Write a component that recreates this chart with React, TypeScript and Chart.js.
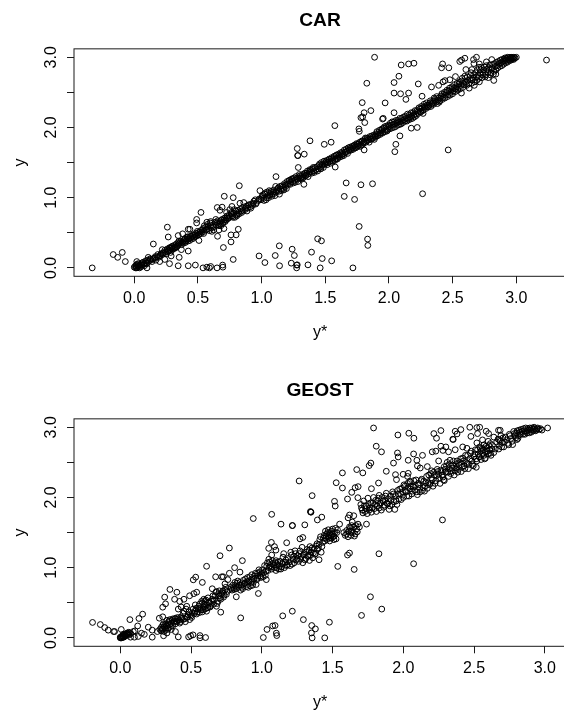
import React, { useEffect, useRef } from "react";
import { Chart, registerables } from "chart.js";

Chart.register(...registerables);

type P = [number, number];

const xTickValues = { step: 0.5 };
const carTitle = "CAR";
const geostTitle = "GEOST";

const carOutliers: P[] = [
[-0.33,0],[-0.165,0.19],[-0.13,0.15],[-0.094,0.22],[-0.07,0.09],[0.15,0.34],[0.26,0.58],[0.267,0.44],[0.345,0.46],[0.277,0.06],[0.345,0.03],[0.353,0.15],[0.424,0.03],[0.424,0.24],[0.37,0.26],[0.48,0.04],[0.54,0],[0.57,0.01],[0.59,0],[0.6,0.02],[0.65,0],[0.694,0.04],[0.696,0.01],[0.7,0.29],[0.777,0.12],[0.654,0.45],[0.76,0.47],[0.76,0.37],[0.8,0.47],[0.817,0.55],[0.665,0.54],[0.704,0.56],[0.49,0.64],[0.49,0.69],[0.524,0.79],[0.652,0.86],[0.69,0.865],[0.673,0.82],[0.707,1.02],[0.777,1.0],[0.825,1.17],[0.767,0.875],[0.725,0.79],[0.38,0.485],[0.424,0.55],[0.437,0.55],[0.508,0.39],[0.98,0.17],[1.026,0.076],[1.107,0.176],[1.139,0.314],[1.141,0.03],[1.24,0.266],[1.257,0.176],[1.233,0.067],[1.275,0.04],[1.275,0],[1.113,1.3],[1.28,1.7],[1.283,1.6],[1.288,1.43],[0.987,1.1],
[3.237,2.96],[1.887,3.0],[2.096,2.89],[2.154,2.905],[2.196,2.915],[1.826,2.63],[2.04,2.64],[2.078,2.73],[2.23,2.62],[2.04,2.49],[2.091,2.48],[2.154,2.49],[2.133,2.4],[1.97,2.35],[1.79,2.354],[1.805,2.21],[1.858,2.24],[1.78,2.14],[1.793,2.15],[1.81,2.07],[2.04,2.21],[1.955,2.13],[1.95,2.12],[1.575,2.026],[1.764,1.98],[1.767,1.945],[2.175,1.99],[2.222,2.0],[2.086,1.88],[2.054,1.76],[2.046,1.655],[1.805,1.68],[2.465,1.68],[1.38,1.81],[1.492,1.76],[1.546,1.79],[1.335,1.62],[1.285,1.6],[1.578,1.436],[2.264,1.056],[1.664,1.21],[1.78,1.184],[1.871,1.198],[1.649,1.018],[1.73,0.975],[1.332,1.19],[1.766,0.59],[1.832,0.41],[1.834,0.32],[1.44,0.414],[1.47,0.385],[1.392,0.224],[1.476,0.133],[1.55,0.1],[1.364,0.043],[1.46,0],[1.717,0],[1.28,0.043],
[2.421,2.905],[2.413,2.85],[2.47,2.85],[2.556,2.94],[2.57,2.96],[2.596,2.986],[2.687,3.0],[2.664,2.967],[2.667,2.91],[2.71,2.905],[2.604,2.825],[2.651,2.825],[2.706,2.858],[2.765,2.934],[2.807,2.967],[2.334,2.577],[2.39,2.6],[2.425,2.65],[2.44,2.667],[2.478,2.68],[2.522,2.725],[2.569,2.49],[2.823,2.67],[2.839,2.76],[2.26,2.445],[2.268,2.2],
];

const carBand: P[] = [
[0.0,0.01],[0.01,0.0],[0.01,0.03],[0.015,0.01],[0.02,0.0],[0.02,0.05],[0.02,0.09],[0.03,0.02],[0.03,0.06],[0.04,0.0],[0.04,0.03],[0.05,0.05],[0.05,0.01],[0.06,0.04],[0.07,0.08],[0.08,0.03],[0.08,0.06],[0.09,0.1],[0.1,0.0],[0.1,0.06],[0.11,0.09],[0.11,0.15],[0.12,0.1],[0.13,0.12],[0.14,0.09],[0.15,0.13],[0.16,0.14],[0.17,0.11],[0.18,0.16],[0.19,0.15],[0.2,0.17],[0.2,0.09],[0.21,0.2],[0.22,0.19],[0.22,0.26],[0.23,0.22],[0.24,0.12],[0.24,0.25],[0.25,0.2],[0.26,0.27],[0.26,0.23],[0.27,0.24],[0.28,0.29],[0.28,0.25],[0.29,0.28],[0.29,0.17],[0.3,0.26],[0.3,0.31],[0.31,0.29],[0.32,0.3],[0.32,0.28],[0.33,0.34],[0.34,0.32],[0.35,0.34],[0.35,0.38],[0.36,0.36],[0.37,0.33],[0.38,0.37],[0.39,0.39],[0.4,0.36],[0.4,0.42],[0.41,0.4],[0.42,0.38],[0.42,0.44],[0.43,0.42],[0.44,0.45],[0.45,0.41],[0.46,0.47],[0.47,0.44],[0.48,0.49],[0.49,0.46],[0.5,0.5],[0.51,0.48],[0.52,0.53],[0.53,0.51],[0.54,0.56],[0.55,0.52],[0.55,0.6],[0.56,0.58],[0.57,0.55],[0.57,0.65],[0.58,0.59],[0.59,0.53],[0.6,0.61],[0.6,0.66],[0.61,0.52],[0.62,0.58],
[0.64,0.69],[0.65,0.64],[0.66,0.62],[0.67,0.66],[0.68,0.6],[0.69,0.69],[0.7,0.65],[0.71,0.71],[0.72,0.68],[0.73,0.74],[0.74,0.71],[0.75,0.83],[0.76,0.77],[0.77,0.74],[0.78,0.78],[0.79,0.72],[0.8,0.81],[0.81,0.76],[0.82,0.79],[0.83,0.92],[0.84,0.81],[0.85,0.86],[0.86,0.93],[0.87,0.83],[0.88,0.88],[0.89,0.85],[0.9,0.9],[0.91,0.87],[0.92,0.91],[0.93,0.89],[0.94,0.95],[0.95,0.97],[0.96,0.93],[0.98,0.98],[1.0,1.0],[1.01,1.04],[1.02,0.96],[1.03,1.07],[1.04,1.0],[1.05,1.03],[1.06,1.1],[1.07,1.06],[1.08,1.02],[1.09,1.08],[1.1,1.06],[1.11,1.16],[1.12,1.1],[1.13,1.14],[1.14,1.05],[1.15,1.12],[1.16,1.17],[1.17,1.13],[1.18,1.2],[1.19,1.16],[1.2,1.23],[1.21,1.19],[1.22,1.25],[1.23,1.22],[1.24,1.27],[1.25,1.21],[1.26,1.25],[1.27,1.3],[1.28,1.26],[1.29,1.28],[1.3,1.31],[1.31,1.27],[1.32,1.33],[1.33,1.3],[1.34,1.35],[1.35,1.32],[1.36,1.38],[1.37,1.34],[1.38,1.4],[1.39,1.37],[1.4,1.41],[1.41,1.38],[1.42,1.43],[1.43,1.4],[1.44,1.38],[1.45,1.46],[1.46,1.43],[1.47,1.5],[1.48,1.46],[1.49,1.52],[1.5,1.48],[1.51,1.53],[1.52,1.5],[1.53,1.55],[1.54,1.49],[1.55,1.57],[1.56,1.52],[1.57,1.59],[1.58,1.55],[1.59,1.61],[1.6,1.57],[1.61,1.6],[1.62,1.64],[1.63,1.59],[1.64,1.62],[1.65,1.68],[1.66,1.64],[1.67,1.66],[1.68,1.71],[1.69,1.67],[1.7,1.7],[1.71,1.73],[1.72,1.69],[1.73,1.75],[1.74,1.71],[1.75,1.76],[1.76,1.74],[1.77,1.79],[1.78,1.75],[1.79,1.81],[1.8,1.78],[1.81,1.83],[1.82,1.79],[1.83,1.85],[1.84,1.82],[1.85,1.87],[1.86,1.83],[1.87,1.84],[1.88,1.89],[1.89,1.86],[1.9,1.91],[1.91,1.88],[1.92,1.93],[1.93,1.9],[1.94,1.96],[1.95,1.92],[1.96,1.99],[1.97,1.94],[1.98,2.02],[1.99,1.97],[2.0,2.01],[2.01,2.06],[2.02,1.99],[2.03,2.04],[2.04,2.08],[2.05,2.01],[2.06,2.06],[2.07,2.1],[2.08,2.04],[2.09,2.08],[2.1,2.13],[2.11,2.07],[2.12,2.11],[2.13,2.16],[2.14,2.09],[2.15,2.13],[2.16,2.18],[2.17,2.12],[2.18,2.16],[2.19,2.21],[2.2,2.15],[2.21,2.19],[2.22,2.24],[2.23,2.2],[2.24,2.26],[2.25,2.22],[2.26,2.28],[2.27,2.25],[2.28,2.3],[2.29,2.27],[2.3,2.32],[2.31,2.29],[2.32,2.35],[2.33,2.3],[2.34,2.37],[2.35,2.33],[2.36,2.4],[2.37,2.36],[2.38,2.34],[2.39,2.42],[2.4,2.38],[2.41,2.45],[2.42,2.4],[2.43,2.47],[2.44,2.42],[2.45,2.5],[2.46,2.44],[2.47,2.52],[2.48,2.46],[2.49,2.54],[2.5,2.48],[2.51,2.56],[2.52,2.51],[2.53,2.58],[2.54,2.53],[2.55,2.62],[2.56,2.55],[2.57,2.66],[2.58,2.57],[2.59,2.61],[2.6,2.7],[2.61,2.6],[2.62,2.67],[2.63,2.56],[2.64,2.74],[2.65,2.63],[2.66,2.7],[2.67,2.6],[2.68,2.78],[2.69,2.67],[2.7,2.74],[2.71,2.65],[2.72,2.82],[2.73,2.71],[2.74,2.78],[2.75,2.86],[2.76,2.75],[2.77,2.83],[2.78,2.71],[2.79,2.89],[2.8,2.78],[2.81,2.85],[2.82,2.76],[2.83,2.91],[2.84,2.82],[2.85,2.88],[2.86,2.94],[2.87,2.87],[2.88,2.92],[2.89,2.97],[2.9,2.9],[2.91,2.95],[2.92,2.98],[2.93,2.93],[2.94,2.97],[2.95,3.0],[2.96,2.96],[2.97,2.99],[2.98,3.0],[2.98,2.97],[2.99,2.99],[3.0,3.0],[2.93,3.0],[2.91,2.99],[2.96,2.99],
];

const carBandExtra: P[] = [
[0.015,0.03],[0.03,0.04],[0.045,0.02],[0.06,0.07],[0.075,0.05],[0.09,0.07],[0.105,0.11],[0.125,0.13],[0.145,0.12],[0.165,0.16],[0.185,0.19],[0.205,0.18],[0.225,0.21],[0.245,0.22],[0.265,0.25],[0.275,0.28],[0.285,0.22],[0.295,0.3],[0.305,0.27],[0.315,0.32],[0.325,0.29],[0.335,0.3],[0.345,0.36],[0.365,0.38],[0.375,0.36],[0.385,0.35],[0.395,0.41],[0.405,0.38],[0.415,0.44],[0.425,0.41],[0.435,0.39],[0.445,0.43],[0.455,0.45],[0.465,0.42],[0.475,0.47],[0.485,0.45],[0.495,0.52],[0.505,0.47],[0.515,0.51],[0.525,0.49],[0.535,0.54],[0.545,0.49],[0.565,0.54],[0.575,0.62],[0.585,0.56],[0.595,0.64],[0.605,0.57],[0.615,0.6],[0.625,0.54],[0.635,0.65],[0.645,0.61],[0.655,0.67],[0.665,0.6],[0.675,0.63],[0.685,0.68],[0.695,0.63],[0.705,0.68],[0.715,0.66],[0.725,0.71],[0.735,0.7],[0.745,0.75],[0.755,0.73],[0.765,0.79],[0.775,0.72],[0.785,0.83],[0.795,0.76],[0.805,0.74],[0.815,0.82],[0.825,0.77],[0.835,0.84],[0.845,0.79],[0.855,0.82],[0.875,0.86],[0.885,0.81],[0.895,0.89],[0.915,0.85],[0.935,0.92],[0.955,0.91],[0.975,0.96],[0.995,0.97],[1.005,1.02],[1.015,0.99],[1.025,1.05],[1.035,0.97],[1.045,1.08],[1.055,1.0],[1.065,1.04],[1.075,1.09],[1.085,1.05],[1.095,1.11],[1.105,1.03],[1.115,1.08],[1.125,1.12],[1.135,1.09],[1.145,1.16],[1.155,1.1],[1.165,1.15],[1.175,1.11],[1.185,1.18],[1.195,1.13],[1.205,1.2],[1.215,1.24],[1.225,1.19],[1.235,1.26],[1.245,1.23],[1.255,1.28],[1.265,1.22],[1.275,1.27],[1.285,1.23],[1.295,1.33],[1.305,1.28],[1.315,1.3],[1.325,1.28],[1.335,1.33],[1.345,1.31],[1.355,1.35],[1.365,1.3],[1.375,1.37],[1.385,1.39],[1.395,1.35],[1.405,1.43],[1.415,1.36],[1.435,1.44],[1.445,1.41],[1.455,1.48],[1.465,1.41],[1.475,1.47],[1.485,1.43],[1.495,1.49],[1.505,1.51],[1.515,1.47],[1.525,1.53],[1.535,1.51],[1.545,1.55],[1.555,1.53],[1.565,1.57],[1.575,1.53],[1.585,1.6],[1.595,1.55],[1.605,1.62],[1.615,1.58],[1.625,1.61],[1.635,1.65],[1.645,1.6],[1.655,1.65],[1.665,1.69],[1.675,1.63],[1.685,1.68],[1.695,1.72],[1.705,1.68],[1.715,1.71],[1.725,1.74],[1.735,1.72],[1.745,1.77],[1.755,1.73],[1.765,1.77],[1.775,1.73],[1.785,1.8],[1.795,1.76],[1.805,1.8],[1.815,1.85],[1.825,1.81],[1.835,1.83],[1.845,1.79],[1.855,1.84],[1.865,1.88],[1.875,1.86],[1.885,1.83],[1.895,1.88],[1.905,1.94],[1.915,1.9],[1.925,1.96],[1.935,1.92],[1.945,1.98],[1.955,1.94],[1.965,2.01],[1.975,1.97],[1.985,1.95],[1.995,2.03],[2.005,1.98],[2.015,2.03],[2.025,2.08],[2.035,2.0],[2.045,2.05],[2.055,2.1],[2.065,2.03],[2.075,2.08],[2.085,2.13],[2.095,2.05],[2.105,2.1],[2.115,2.15],[2.125,2.09],[2.135,2.13],[2.145,2.19],[2.155,2.11],[2.165,2.15],[2.175,2.21],[2.185,2.13],[2.195,2.18],[2.205,2.24],[2.215,2.17],[2.225,2.22],[2.235,2.28],[2.245,2.23],[2.255,2.3],[2.265,2.24],[2.275,2.33],[2.285,2.29],[2.295,2.35],[2.305,2.3],[2.315,2.32],[2.325,2.38],[2.335,2.33],[2.345,2.35],[2.355,2.42],[2.365,2.38],[2.375,2.44],[2.385,2.39],[2.395,2.36],[2.405,2.42],[2.415,2.48],[2.425,2.43],[2.435,2.5],[2.445,2.46],[2.455,2.53],[2.465,2.47],[2.475,2.56],[2.485,2.5],[2.495,2.58],[2.505,2.52],[2.515,2.61],[2.525,2.55],[2.535,2.63],[2.545,2.57],[2.555,2.65],[2.565,2.6],[2.575,2.7],[2.585,2.63],[2.595,2.73],[2.605,2.65],[2.615,2.72],[2.625,2.62],[2.635,2.68],[2.645,2.78],[2.655,2.68],[2.665,2.75],[2.675,2.65],[2.685,2.72],[2.695,2.82],[2.705,2.7],[2.715,2.78],[2.725,2.86],[2.735,2.75],[2.745,2.82],[2.755,2.72],[2.765,2.88],[2.775,2.79],[2.785,2.85],[2.795,2.75],[2.805,2.83],[2.815,2.9],[2.825,2.8],[2.835,2.87],[2.845,2.93],[2.855,2.85],[2.865,2.91],[2.875,2.96],[2.885,2.88],[2.895,2.94],[2.905,2.97],[2.915,2.92],[2.925,2.96],[2.935,2.99],[2.945,2.95],[2.955,2.98],[2.965,3.0],[2.975,2.98],
];

const geostOutliers: P[] = [
[-0.196,0.22],[-0.141,0.19],[-0.11,0.147],[-0.085,0.11],[-0.047,0.09],[-0.04,0.09],[0.007,0.12],[0.068,0.26],[0.132,0.276],[0.158,0.338],[0.123,0.17],[0.104,0.1],[0.092,0.09],[0.073,0.01],[0.1,0.01],[0.127,0.02],[0.15,0.067],[0.17,0.05],[0.198,0.152],[0.226,0.11],[0.226,0.01],[0.262,0.09],[0.276,0.28],[0.306,0.03],[0.3,0.3],[0.3,0.437],[0.314,0.58],[0.32,0.485],[0.351,0.69],[0.384,0.55],[0.4,0.65],[0.39,0.09],[0.41,0.014],[0.483,0.014],[0.497,0.03],[0.514,0.043],[0.563,0.033],[0.563,0],[0.603,0.005],[0.516,0.827],[0.533,0.865],[0.58,0.79],[0.61,1.02],[0.674,0.87],[0.705,1.17],[0.771,1.28],[0.717,0.87],[0.728,0.87],[0.771,0.92],[0.808,1.0],[0.863,1.1],[0.846,0.937],[0.71,0.366],[0.82,0.585],[0.851,0.285],[0.976,0.632],[0.94,1.7],[1.07,1.76],[1.136,1.62],[1.216,1.6],[1.264,2.235],[1.176,1.355],[1.068,1.36],[1.049,1.275],[1.09,1.3],[1.1,1.25],[1.148,0.314],[1.216,0.38],[1.011,0.005],[1.037,0.12],[1.077,0.17],[1.094,0.176],[1.103,0.067],[1.106,0.033],[1.032,0.83],
[1.79,2.99],[1.962,2.89],[2.039,2.915],[2.075,2.844],[2.216,2.91],[2.235,2.844],[2.266,2.953],[1.809,2.73],[1.846,2.65],[1.959,2.634],[1.964,2.577],[2.073,2.62],[2.136,2.6],[2.035,2.53],[1.931,2.49],[1.771,2.49],[1.759,2.454],[2.096,2.53],[2.205,2.65],[1.671,2.397],[1.57,2.35],[1.714,2.35],[1.88,2.373],[1.526,2.21],[1.57,2.135],[1.825,2.206],[1.66,2.14],[1.681,2.154],[1.775,2.125],[1.945,2.325],[1.952,2.254],[1.999,2.33],[2.035,2.344],[1.636,2.073],[1.606,1.978],[1.679,1.997],[1.356,2.026],[1.514,1.945],[1.519,1.878],[1.346,1.793],[1.348,1.79],[1.344,1.8],[1.217,1.6],[1.304,1.61],[1.393,1.68],[1.424,1.72],[2.277,1.68],[2.073,1.056],[1.828,1.198],[1.606,1.18],[1.62,1.208],[1.537,1.018],[1.653,0.975],[1.337,1.103],[1.405,1.113],[1.768,0.585],[1.848,0.41],[1.705,0.32],[1.294,0.26],[1.353,0.176],[1.379,0.128],[1.351,0.07],[1.356,0],[1.445,0],[1.478,0.223],
[2.367,2.943],[2.38,2.905],[2.407,2.967],[2.353,2.825],[2.47,3.0],[2.478,2.87],[2.52,2.995],[2.54,3.0],[2.525,2.91],[2.586,2.943],[2.603,2.91],[2.673,2.957],[2.685,2.957],[2.301,2.72],[2.266,2.73],[2.367,2.68],[2.52,2.777],[2.615,2.767],[2.516,2.43],[2.773,2.753],[2.803,2.825],[2.35,2.83],[2.23,2.66],[2.28,2.67],[2.32,2.65],[2.42,2.72],[2.45,2.7],[2.56,2.82],[2.64,2.86],[2.68,2.82],[2.1,2.45],[2.12,2.42],[2.17,2.44],[2.25,2.52],[2.03,2.3],
];

const geostBand: P[] = [
[0,0],[0.0,0.01],[0.005,0.0],[0.01,0.02],[0.01,0.0],[0.02,0.03],[0.02,0.01],[0.02,0.05],[0.03,0.02],[0.03,0.04],[0.04,0.06],[0.04,0.03],[0.05,0.05],[0.05,0.07],[0.06,0.08],[0.06,0.04],
[0.28,0.12],[0.29,0.15],[0.29,0.1],[0.3,0.18],[0.3,0.13],[0.31,0.09],[0.31,0.16],[0.32,0.2],[0.32,0.12],[0.33,0.25],[0.33,0.17],[0.33,0.07],[0.34,0.14],[0.34,0.22],[0.35,0.19],[0.35,0.26],[0.36,0.12],[0.36,0.21],[0.37,0.27],[0.37,0.17],[0.38,0.24],[0.39,0.2],[0.39,0.28],[0.4,0.23],[0.41,0.41],[0.41,0.27],[0.42,0.21],[0.42,0.52],[0.43,0.3],[0.43,0.44],[0.44,0.26],[0.45,0.38],[0.45,0.55],[0.46,0.23],[0.47,0.29],[0.47,0.45],[0.48,0.33],[0.49,0.26],[0.49,0.6],[0.5,0.31],[0.51,0.36],[0.52,0.63],[0.53,0.38],[0.53,0.47],[0.54,0.65],[0.54,0.34],[0.55,0.42],[0.56,0.36],[0.56,0.48],[0.57,0.4],[0.58,0.5],[0.58,0.37],[0.59,0.44],[0.59,0.55],[0.6,0.41],[0.6,0.52],[0.61,0.47],[0.61,0.38],[0.62,0.57],[0.62,0.43],[0.63,0.5],[0.64,0.46],[0.65,0.55],[0.65,0.7],[0.66,0.48],[0.67,0.6],[0.68,0.45],[0.68,0.66],[0.69,0.52],[0.7,0.6],[0.7,0.67],[0.71,0.55],[0.72,0.64],[0.73,0.58],[0.74,0.68],[0.74,0.77],[0.75,0.62],[0.76,0.83],[0.78,0.72],[0.79,0.68],[0.8,0.71],[0.81,0.79],[0.82,0.7],[0.83,0.81],[0.84,0.75],[0.85,0.68],[0.86,0.72],[0.87,0.82],[0.88,0.78],[0.89,0.73],[0.9,0.86],[0.9,0.76],[0.91,0.81],[0.92,0.74],[0.93,0.9],[0.93,0.84],[0.94,0.79],[0.95,0.88],[0.96,0.76],[0.97,0.92],[0.97,0.85],[0.98,0.97],[0.99,0.88],[1.0,0.92],[1.01,0.87],[1.02,1.03],[1.03,0.95],[1.04,1.07],[1.05,1.0],[1.05,1.12],[1.06,1.03],[1.07,0.98],[1.07,1.18],[1.08,1.06],[1.09,1.0],[1.1,1.1],[1.1,0.96],[1.11,1.04],[1.12,0.98],[1.13,1.09],[1.14,1.01],[1.15,1.15],[1.15,1.06],[1.16,1.0],[1.17,1.11],[1.18,1.04],[1.2,1.03],[1.21,1.18],[1.22,1.12],[1.23,1.07],[1.24,1.2],[1.25,1.13],[1.26,1.09],[1.27,1.24],[1.27,1.41],[1.28,1.16],[1.29,1.07],[1.29,1.43],[1.3,1.2],[1.31,1.13],[1.32,1.26],[1.33,1.17],[1.34,1.3],[1.35,1.22],[1.36,1.14],[1.37,1.27],[1.38,1.2],[1.39,1.34],[1.4,1.28],[1.41,1.4],[1.42,1.22],[1.43,1.36],[1.44,1.46],[1.45,1.42],[1.45,1.52],[1.46,1.48],[1.46,1.4],[1.47,1.44],[1.47,1.54],[1.48,1.5],[1.48,1.38],[1.49,1.46],[1.49,1.42],[1.5,1.55],[1.5,1.48],[1.51,1.4],[1.51,1.45],[1.52,1.56],[1.53,1.5],[1.55,1.62],[1.58,1.5],[1.59,1.46],[1.6,1.53],[1.61,1.71],[1.61,1.44],[1.62,1.58],[1.62,1.75],[1.63,1.52],[1.63,1.46],[1.64,1.65],[1.65,1.58],[1.65,1.74],[1.66,1.48],[1.67,1.55],[1.68,1.62],[1.7,1.9],[1.71,1.82],[1.72,1.95],[1.73,1.8],[1.74,1.88],[1.74,1.62],[1.75,1.99],[1.76,1.82],[1.77,1.92],[1.78,1.85],[1.79,2.0],[1.8,1.9],[1.81,1.8],[1.82,1.95],[1.83,2.03],[1.83,1.85],[1.84,1.92],[1.85,2.0],[1.86,1.86],[1.87,1.96],[1.88,2.06],[1.89,1.91],[1.9,1.83],[1.91,2.02],[1.92,1.9],[1.93,2.05],[1.94,1.83],[1.95,1.95],[1.96,2.1],[1.97,1.98],[1.98,2.05],[1.99,2.13],[2.0,2.0],[2.01,2.16],[2.02,2.08],[2.03,2.2],[2.04,2.02],[2.05,2.12],[2.05,2.22],[2.06,2.05],[2.07,2.15],[2.08,2.1],[2.09,2.25],[2.1,2.04],[2.11,2.18],[2.12,2.08],[2.13,2.26],[2.14,2.14],[2.15,2.09],[2.16,2.21],[2.17,2.13],[2.18,2.32],[2.19,2.2],[2.2,2.38],[2.2,2.28],[2.21,2.16],[2.22,2.32],[2.23,2.24],[2.24,2.4],[2.25,2.33],[2.26,2.2],[2.27,2.37],[2.28,2.29],[2.29,2.44],[2.29,2.24],[2.3,2.36],[2.31,2.5],[2.32,2.41],[2.32,2.3],[2.33,2.53],[2.34,2.38],[2.35,2.46],[2.36,2.32],[2.37,2.42],[2.38,2.52],[2.39,2.4],[2.4,2.5],[2.41,2.37],[2.42,2.56],[2.43,2.45],[2.44,2.6],[2.45,2.48],[2.46,2.41],[2.47,2.55],[2.48,2.66],[2.49,2.47],[2.5,2.58],[2.51,2.68],[2.52,2.52],[2.53,2.62],[2.54,2.72],[2.54,2.58],[2.55,2.66],[2.55,2.54],[2.56,2.7],[2.57,2.6],[2.57,2.75],[2.58,2.65],[2.58,2.56],[2.59,2.7],[2.6,2.62],[2.6,2.8],[2.61,2.68],[2.62,2.6],[2.63,2.74],[2.65,2.69],[2.67,2.83],[2.68,2.74],[2.69,2.88],[2.7,2.78],[2.71,2.72],[2.72,2.86],[2.74,2.77],[2.75,2.9],[2.76,2.84],[2.78,2.94],[2.79,2.88],[2.8,2.92],[2.81,2.84],[2.82,2.96],[2.83,2.9],[2.84,2.94],[2.85,2.98],[2.86,2.9],[2.87,2.94],[2.88,2.98],[2.89,2.92],[2.9,2.96],[2.91,2.99],[2.92,2.95],[2.93,2.98],[2.94,2.96],[2.95,2.99],[2.96,2.97],[2.97,2.98],[2.98,2.96],[3.02,2.99],
];

const geostBandExtra: P[] = [
[0.01,0.01],[0.015,0.03],[0.025,0.01],[0.03,0.05],[0.035,0.03],[0.045,0.05],[0.055,0.06],[0.065,0.07],[0.075,0.06],
[0.295,0.12],[0.305,0.2],[0.315,0.14],[0.325,0.18],[0.335,0.12],[0.345,0.24],[0.355,0.16],[0.365,0.25],[0.375,0.22],[0.385,0.27],[0.395,0.24],[0.405,0.29],[0.415,0.25],[0.425,0.23],[0.435,0.28],[0.445,0.35],[0.455,0.27],[0.465,0.41],[0.475,0.3],[0.485,0.37],[0.495,0.33],[0.505,0.29],[0.515,0.41],[0.525,0.35],[0.535,0.42],[0.545,0.37],[0.555,0.45],[0.565,0.42],[0.575,0.52],[0.585,0.4],[0.595,0.48],[0.605,0.54],[0.615,0.43],[0.625,0.51],[0.635,0.44],[0.645,0.52],[0.655,0.6],[0.665,0.54],[0.675,0.65],[0.685,0.49],[0.695,0.63],[0.705,0.57],[0.715,0.62],[0.725,0.67],[0.735,0.61],[0.745,0.72],[0.755,0.66],[0.785,0.7],[0.795,0.75],[0.805,0.69],[0.815,0.74],[0.825,0.78],[0.835,0.72],[0.845,0.79],[0.855,0.75],[0.865,0.7],[0.875,0.77],[0.885,0.84],[0.895,0.8],[0.905,0.72],[0.915,0.87],[0.925,0.79],[0.935,0.75],[0.945,0.84],[0.955,0.92],[0.965,0.83],[0.975,0.88],[0.985,0.94],[0.995,0.86],[1.005,0.97],[1.015,0.93],[1.025,0.89],[1.035,1.02],[1.045,0.96],[1.055,1.08],[1.065,1.01],[1.075,1.1],[1.085,1.04],[1.095,1.07],[1.105,1.0],[1.115,1.08],[1.125,1.02],[1.135,0.98],[1.145,1.06],[1.155,1.2],[1.165,1.08],[1.175,1.03],[1.185,1.13],[1.195,1.08],[1.205,1.22],[1.215,1.05],[1.225,1.16],[1.235,1.24],[1.245,1.11],[1.255,1.17],[1.265,1.2],[1.275,1.12],[1.285,1.29],[1.295,1.18],[1.305,1.11],[1.315,1.22],[1.325,1.16],[1.335,1.25],[1.345,1.18],[1.355,1.28],[1.365,1.21],[1.375,1.19],[1.385,1.31],[1.395,1.26],[1.405,1.33],[1.415,1.44],[1.425,1.3],[1.435,1.42],[1.445,1.38],[1.455,1.45],[1.465,1.5],[1.475,1.42],[1.485,1.47],[1.495,1.52],[1.505,1.44],[1.515,1.5],[1.525,1.41],[1.535,1.54],[1.6,1.48],[1.615,1.52],[1.625,1.56],[1.635,1.6],[1.645,1.5],[1.655,1.45],[1.665,1.6],[1.675,1.51],[1.69,1.58],[1.705,1.85],[1.715,1.78],[1.725,1.88],[1.735,1.84],[1.745,1.77],[1.755,1.9],[1.765,1.85],[1.775,1.79],[1.785,1.92],[1.795,1.84],[1.805,1.96],[1.815,1.88],[1.825,1.99],[1.835,1.9],[1.845,1.82],[1.855,1.95],[1.865,1.89],[1.875,2.02],[1.885,1.92],[1.895,1.98],[1.905,1.88],[1.915,1.96],[1.925,2.08],[1.935,1.94],[1.945,2.03],[1.955,1.9],[1.965,2.05],[1.975,2.12],[1.985,1.97],[1.995,2.08],[2.005,2.18],[2.015,2.1],[2.025,2.02],[2.035,2.14],[2.045,2.23],[2.055,2.16],[2.065,2.09],[2.075,2.24],[2.085,2.17],[2.095,2.08],[2.105,2.2],[2.115,2.13],[2.125,2.24],[2.135,2.1],[2.145,2.23],[2.155,2.16],[2.165,2.3],[2.175,2.21],[2.185,2.18],[2.195,2.34],[2.205,2.25],[2.215,2.36],[2.225,2.2],[2.235,2.31],[2.245,2.37],[2.255,2.27],[2.265,2.39],[2.275,2.32],[2.285,2.25],[2.295,2.4],[2.305,2.45],[2.315,2.36],[2.325,2.47],[2.335,2.34],[2.345,2.42],[2.355,2.52],[2.365,2.38],[2.375,2.48],[2.385,2.36],[2.395,2.46],[2.405,2.55],[2.415,2.43],[2.425,2.52],[2.435,2.41],[2.445,2.5],[2.455,2.6],[2.465,2.47],[2.475,2.63],[2.485,2.52],[2.495,2.45],[2.505,2.62],[2.515,2.55],[2.525,2.68],[2.535,2.58],[2.545,2.7],[2.555,2.61],[2.565,2.68],[2.575,2.55],[2.585,2.73],[2.595,2.66],[2.605,2.74],[2.615,2.63],[2.625,2.69],[2.64,2.64],[2.66,2.79],[2.675,2.69],[2.685,2.8],[2.695,2.72],[2.705,2.85],[2.715,2.79],[2.73,2.82],[2.745,2.75],[2.755,2.88],[2.77,2.8],[2.785,2.91],[2.795,2.85],[2.805,2.95],[2.815,2.88],[2.825,2.93],[2.835,2.97],[2.845,2.9],[2.855,2.95],[2.865,2.99],[2.875,2.92],[2.885,2.96],[2.895,2.99],[2.905,2.93],[2.915,2.97],[2.925,3.0],[2.935,2.95],[2.945,2.98],
];

const textFont = "'Liberation Sans', Arial, sans-serif";
const ink = "#1a1a1a";

const boxPlugin = {
  id: "plotBox",
  afterDraw(chart: any) {
    const { ctx, chartArea: a } = chart;
    ctx.save();
    ctx.strokeStyle = ink;
    ctx.lineWidth = 1;
    ctx.strokeRect(a.left, a.top, a.right - a.left, a.bottom - a.top);
    ctx.restore();
  },
};

function makeConfig(title: string, points: P[], xMin: number, xMax: number): any {
  const font = { family: textFont, size: 16 };
  return {
    type: "scatter",
    data: {
      datasets: [
        {
          data: points.map(([x, y]) => ({ x, y })),
          pointRadius: 2.9,
          pointBorderWidth: 1,
          pointBorderColor: "#000",
          pointBackgroundColor: "rgba(0,0,0,0)",
        },
      ],
    },
    plugins: [boxPlugin],
    options: {
      animation: false,
      responsive: false,
      layout: { padding: { left: 0, right: 74, top: 0, bottom: 0 } },
      plugins: {
        legend: { display: false },
        tooltip: { enabled: false },
        title: {
          display: true,
          fullSize: false,
          text: title,
          color: "#000",
          font: { family: textFont, size: 19.2, weight: "bold", lineHeight: 1.2 },
          padding: { top: 9.5, bottom: 16.3 },
        },
      },
      scales: {
        x: {
          type: "linear",
          min: xMin,
          max: xMax,
          afterFit: (s: any) => { s.height = 64.7; },
          border: { display: false },
          grid: { drawOnChartArea: false, drawTicks: true, tickLength: 7, color: ink },
          ticks: {
            stepSize: xTickValues.step,
            includeBounds: false,
            autoSkip: false,
            maxRotation: 0,
            minRotation: 0,
            color: "#000",
            font,
            padding: 6,
            callback: (v: number) => v.toFixed(1),
          },
          title: { display: true, text: "y*", color: "#000", font, padding: { top: 0, bottom: -1.5 } },
        },
        y: {
          type: "linear",
          min: -0.12,
          max: 3.12,
          afterFit: (s: any) => { s.width = 74; },
          border: { display: false },
          grid: { drawOnChartArea: false, drawTicks: true, tickLength: 7, color: ink },
          ticks: {
            stepSize: 0.5,
            includeBounds: false,
            autoSkip: false,
            minRotation: 90,
            maxRotation: 90,
            crossAlign: "center",
            color: "#000",
            font,
            padding: 4,
            callback: (v: number) => (Number.isInteger(v) ? v.toFixed(1) : ""),
          },
          title: { display: true, text: "y", color: "#000", font, padding: { top: 11.4, bottom: 0 } },
        },
      },
    },
  };
}

export default function App() {
  const topRef = useRef<HTMLCanvasElement>(null);
  const bottomRef = useRef<HTMLCanvasElement>(null);
  useEffect(() => {
    const a = new Chart(topRef.current!, makeConfig(carTitle, [...carBand, ...carBandExtra, ...carOutliers], -0.473, 3.39));
    const b = new Chart(bottomRef.current!, makeConfig(geostTitle, [...geostBand, ...geostBandExtra, ...geostOutliers], -0.327, 3.15));
    return () => { a.destroy(); b.destroy(); };
  }, []);
  const canvasStyle = (top: number): React.CSSProperties => ({ position: "absolute", left: 0, top, display: "block" });
  return (
    <div style={{ position: "absolute", left: 0, top: 0, width: 564, height: 711, overflow: "hidden", background: "#fff" }}>
      <canvas ref={topRef} width={640} height={341} style={canvasStyle(0)} />
      <canvas ref={bottomRef} width={640} height={341} style={canvasStyle(370)} />
    </div>
  );
}
